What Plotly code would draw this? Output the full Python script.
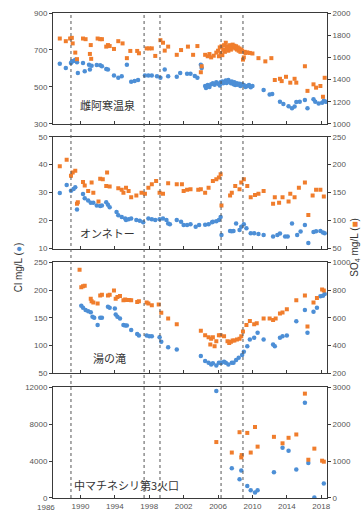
import plotly.graph_objects as go

# ---------------- data ----------------
# Panel 1: 雌阿寒温泉
p1_cl_year = [1987.6, 1988.3, 1988.9, 1989.0, 1989.2, 1989.4, 1989.6, 1989.7, 1990.3, 1990.5, 1991.0, 1991.1, 1991.3,
              1991.9, 1992.3, 1992.5, 1993.0, 1993.2, 1993.9, 1994.4, 1994.8, 1995.4, 1995.9, 1996.3, 1996.7, 1997.5,
              1997.9, 1998.3, 1998.9, 1999.3, 1999.8, 2000.2, 2001.2, 2001.6, 2002.4, 2002.8, 2003.3, 2003.6, 2004.0,
              2004.1, 2004.5, 2004.6, 2004.8, 2005.0, 2005.2, 2005.4, 2005.6, 2005.8, 2006.0, 2006.2, 2006.3, 2006.5,
              2006.6, 2006.8, 2006.9, 2007.0, 2007.2, 2007.3, 2007.5, 2007.6, 2007.8, 2007.9, 2008.0, 2008.2, 2008.3,
              2008.5, 2008.6, 2008.8, 2009.0, 2009.2, 2009.4, 2009.6, 2009.8, 2010.0, 2011.3, 2012.0, 2012.3, 2013.2,
              2013.6, 2014.2, 2014.6, 2014.9, 2015.1, 2015.5, 2016.1, 2016.4, 2017.1, 2017.3, 2017.7, 2018.1, 2018.3,
              2018.5]
p1_cl_val = [625, 603, 629, 638, 641, 647, 633, 576, 629, 585, 620, 594, 615,
             619, 617, 612, 597, 594, 562, 550, 558, 620, 528, 532, 537, 562,
             562, 562, 558, 550, 594, 558, 555, 576, 572, 572, 559, 550, 620,
             603, 505, 495, 510, 500, 515, 520, 512, 525, 518, 508, 525, 530,
             520, 528, 535, 522, 537, 528, 520, 530, 515, 525, 510, 520, 512,
             518, 505, 515, 510, 500, 505, 510, 498, 505, 484, 459, 462, 420,
             408, 396, 385, 395, 418, 420, 429, 385, 434, 420, 410, 415, 425,
             420]
p1_so4_year = [1987.6, 1988.3, 1988.8, 1989.0, 1989.1, 1989.4, 1989.6, 1990.3, 1990.6, 1991.1, 1991.2, 1991.25,
               1992.0, 1992.3, 1992.5, 1993.0, 1993.2, 1993.4, 1993.9, 1994.4, 1994.9, 1995.4, 1995.8, 1996.6,
               1996.8, 1997.7, 1998.0, 1998.3, 1998.7, 1999.3, 1999.6, 1999.8, 2000.2, 2001.2, 2001.7, 2002.5,
               2003.1, 2003.6, 2004.0, 2004.1, 2004.5, 2004.8, 2005.0, 2005.2, 2005.5, 2005.8, 2006.0, 2006.1,
               2006.2, 2006.3, 2006.4, 2006.5, 2006.6, 2006.7, 2006.8, 2006.9, 2007.0, 2007.1, 2007.2, 2007.3,
               2007.4, 2007.5, 2007.6, 2007.7, 2007.8, 2007.9, 2008.0, 2008.1, 2008.2, 2008.3, 2008.4, 2008.5,
               2008.6, 2008.7, 2008.8, 2008.9, 2009.0, 2009.1, 2009.2, 2009.4, 2009.7, 2010.0, 2010.7, 2011.5,
               2012.2, 2012.6, 2013.2, 2013.4, 2013.9, 2014.4, 2014.9, 2015.1, 2016.1, 2016.4, 2017.1, 2017.4,
               2017.9, 2018.2, 2018.4]
p1_so4_val = [1770, 1746, 1770, 1776, 1726, 1643, 1584, 1770, 1764, 1631, 1711, 1587,
              1770, 1764, 1764, 1697, 1711, 1702, 1676, 1746, 1726, 1593, 1658, 1658,
              1637, 1681, 1681, 1681, 1613, 1755, 1732, 1661, 1697, 1623, 1666, 1697,
              1623, 1702, 1466, 1520, 1623, 1610, 1630, 1600, 1615, 1643, 1660, 1610,
              1690, 1640, 1700, 1620, 1670, 1710, 1650, 1732, 1680, 1700, 1660, 1690,
              1710, 1670, 1700, 1715, 1690, 1705, 1680, 1700, 1670, 1690, 1660, 1680,
              1650, 1670, 1660, 1580, 1600, 1650, 1640, 1645, 1640, 1635, 1593, 1564,
              1593, 1396, 1407, 1386, 1425, 1372, 1407, 1372, 1520, 1298, 1357, 1327,
              1342, 1245, 1416]

# Panel 2: オンネトー
p2_cl_year = [1987.6, 1988.4, 1988.9, 1989.2, 1989.4, 1989.6, 1990.3, 1990.5, 1990.9, 1991.2, 1991.5, 1991.9,
              1992.3, 1992.5, 1993.0, 1993.2, 1993.4, 1994.2, 1994.4, 1994.8, 1995.2, 1995.3, 1995.6, 1995.9,
              1996.5, 1996.9, 1997.3, 1997.9, 1998.3, 1998.7, 1999.2, 1999.6, 2000.0, 2000.2, 2000.4, 2001.2,
              2001.7, 2002.0, 2002.4, 2002.8, 2003.4, 2003.8, 2004.5, 2004.9, 2005.3, 2005.4, 2005.8, 2006.1,
              2006.3, 2006.4, 2007.4, 2007.6, 2007.8, 2008.1, 2008.5, 2008.7, 2009.0, 2009.3, 2009.8, 2010.2,
              2010.7, 2011.3, 2012.4, 2012.9, 2013.2, 2013.8, 2014.1, 2014.6, 2015.2, 2015.6, 2016.1, 2016.5,
              2017.1, 2017.4, 2017.9, 2018.2, 2018.4]
p2_cl_val = [29.9, 32.7, 30.7, 31.3, 31.9, 24.0, 29.5, 28.0, 27.2, 26.4, 26.4, 25.4,
             25.2, 25.4, 26.6, 25.7, 24.8, 23.1, 21.9, 21.3, 20.8, 20.2, 20.5, 20.8,
             20.2, 20.0, 19.4, 20.8, 20.5, 20.2, 20.5, 20.8, 20.2, 19.0, 18.7, 20.2,
             19.6, 18.4, 18.4, 18.7, 17.8, 18.4, 18.5, 18.7, 19.4, 19.6, 19.8, 20.2,
             21.3, 14.9, 16.3, 16.2, 16.3, 19.0, 16.7, 17.8, 18.7, 17.3, 15.5, 15.5,
             15.2, 14.9, 14.3, 14.9, 15.4, 14.3, 14.3, 19.0, 14.9, 16.1, 18.4, 12.0,
             15.9, 16.2, 16.3, 15.8, 15.5]
p2_so4_year = [1987.6, 1988.4, 1988.9, 1989.1, 1989.4, 1989.6, 1989.7, 1990.3, 1990.5, 1990.9, 1991.3, 1991.5,
               1992.1, 1992.3, 1992.6, 1993.0, 1993.1, 1993.4, 1994.4, 1994.8, 1995.0, 1995.3, 1995.6, 1995.9,
               1996.5, 1997.1, 1997.5, 1997.9, 1998.3, 1998.8, 1999.2, 1999.6, 2000.2, 2001.2, 2001.8, 2002.0,
               2002.4, 2002.8, 2003.7, 2004.0, 2004.5, 2004.9, 2005.4, 2005.8, 2006.1, 2006.3, 2006.4, 2007.4,
               2007.6, 2008.0, 2008.5, 2008.7, 2009.0, 2009.4, 2009.8, 2010.3, 2010.7, 2011.3, 2012.4, 2012.6,
               2013.1, 2013.5, 2014.2, 2014.4, 2014.9, 2015.4, 2016.1, 2016.5, 2017.0, 2017.4, 2017.9, 2018.3]
p2_so4_val = [197, 209, 180, 186, 189, 130, 133, 169, 163, 153, 168, 150,
              134, 175, 174, 162, 186, 161, 158, 155, 150, 159, 153, 142,
              145, 150, 148, 159, 165, 171, 150, 148, 167, 165, 165, 153,
              155, 156, 155, 156, 150, 159, 171, 174, 177, 183, 127, 145,
              150, 162, 156, 168, 174, 162, 142, 146, 148, 153, 130, 142,
              132, 142, 134, 148, 142, 159, 168, 110, 145, 155, 155, 143]

# Panel 3: 湯の滝
p3_cl_year = [1990.1, 1990.3, 1990.6, 1990.9, 1991.2, 1991.4, 1991.6, 1992.0, 1992.3, 1992.5, 1993.2, 1993.4,
              1994.0, 1994.1, 1994.3, 1994.6, 1995.0, 1995.2, 1995.4, 1995.9, 1996.6, 1996.8, 1997.7, 1998.0,
              1998.3, 1999.2, 1999.4, 2000.2, 2001.2, 2004.0, 2004.5, 2004.9, 2005.2, 2005.4, 2005.8, 2006.1,
              2006.3, 2006.4, 2006.7, 2006.9, 2007.2, 2007.6, 2007.8, 2008.1, 2008.4, 2008.8, 2009.0, 2009.4,
              2009.7, 2010.2, 2010.6, 2011.3, 2012.4, 2012.6, 2013.2, 2013.5, 2014.0, 2015.1, 2016.1, 2016.4,
              2017.1, 2017.5, 2017.9, 2018.2, 2018.4]
p3_cl_val = [172, 168, 164, 162, 160, 152, 150, 137, 150, 150, 170, 168,
             167, 156, 152, 149, 137, 136, 136, 128, 121, 118, 118, 117,
             117, 115, 107, 97, 93, 81, 72, 69, 66, 68, 64, 69,
             69, 69, 71, 69, 66, 69, 69, 74, 78, 83, 89, 99,
             111, 114, 123, 111, 102, 99, 114, 117, 118, 144, 164, 123,
             161, 168, 189, 190, 193]
p3_so4_year = [1989.9, 1990.1, 1990.3, 1990.5, 1991.2, 1991.3, 1991.5, 1992.0, 1992.3, 1992.5, 1993.2, 1993.4,
               1993.9, 1994.1, 1994.3, 1994.6, 1995.0, 1995.2, 1995.4, 1995.7, 1995.9, 1996.6, 1996.8, 1997.7,
               1997.9, 1998.3, 1999.1, 1999.4, 2000.2, 2001.2, 2004.0, 2004.5, 2004.9, 2005.1, 2005.2, 2005.4,
               2005.6, 2005.8, 2006.1, 2006.3, 2006.7, 2007.1, 2007.3, 2007.5, 2007.7, 2007.9, 2008.2, 2008.5,
               2008.7, 2008.9, 2009.3, 2009.7, 2010.2, 2010.5, 2011.3, 2012.0, 2012.4, 2012.7, 2013.2, 2013.5,
               2014.0, 2015.1, 2016.1, 2016.4, 2017.1, 2017.5, 2018.1, 2018.3]
p3_so4_val = [946, 821, 828, 832, 738, 719, 710, 703, 761, 766, 761, 766,
              797, 738, 750, 757, 726, 733, 729, 729, 726, 715, 719, 710,
              703, 691, 696, 637, 596, 554, 507, 474, 460, 408, 450, 460,
              396, 431, 474, 474, 467, 431, 419, 427, 436, 436, 443, 450,
              467, 502, 549, 577, 554, 561, 596, 596, 584, 596, 632, 639,
              662, 726, 761, 537, 710, 743, 804, 797]

# Panel 4: 中マチネシリ第3火口
p4_cl_year = [2005.8, 2007.6, 2008.5, 2008.7, 2009.4, 2009.8, 2010.3, 2010.6, 2012.5, 2013.5, 2014.2, 2015.1,
              2016.1, 2016.5, 2017.2, 2018.3]
p4_cl_val = [11576, 3218, 2018, 2974, 1306, 850, 605, 850, 2793, 5448, 5098, 3080,
             10301, 3791, 50, 1561]
p4_so4_year = [2005.8, 2007.6, 2008.5, 2008.7, 2008.75, 2009.4, 2009.8, 2010.3, 2010.6, 2012.5, 2013.5, 2014.2,
               2015.1, 2016.1, 2016.5, 2017.2, 2018.1, 2018.3]
p4_so4_val = [1513, 1229, 1779, 1097, 1160, 1760, 1229, 1920, 1389, 1654, 1479, 1628,
              1718, 2822, 1035, 1335, 1009, 982]

panel_names = ["雌阿寒温泉", "オンネトー", "湯の滝", "中マチネシリ第3火口"]
eruption_years = [1988.9, 1997.4, 1999.25, 2006.35, 2008.9]
year_ticks = [1990, 1994, 1998, 2002, 2006, 2010, 2014, 2018]
first_year_label = "1986"

cl_ranges = [[300, 900], [10, 50], [50, 250], [0, 12000]]
cl_ticks = [[300, 500, 700, 900], [10, 20, 30, 40, 50], [50, 100, 150, 200, 250], [0, 4000, 8000, 12000]]
so4_ranges = [[1000, 2000], [50, 250], [200, 1000], [0, 3000]]
so4_ticks = [[1000, 1200, 1400, 1600, 1800, 2000], [50, 100, 150, 200, 250],
             [200, 400, 600, 800, 1000], [0, 1000, 2000, 3000]]

panels = [(p1_cl_year, p1_cl_val, p1_so4_year, p1_so4_val),
          (p2_cl_year, p2_cl_val, p2_so4_year, p2_so4_val),
          (p3_cl_year, p3_cl_val, p3_so4_year, p3_so4_val),
          (p4_cl_year, p4_cl_val, p4_so4_year, p4_so4_val)]

# ---------------- style ----------------
BLUE = "#4d8fd6"
ORANGE = "#f07d2c"
AX = "#3a3a3a"
TICKF = dict(family="Liberation Sans, Arial, sans-serif", size=8, color="#555555")
JPF = dict(family="Noto Sans CJK JP", size=11, color="#333333")

W, H = 363, 520
ML, MR, MT, MB = 53, 36, 9, 17
plot_w = W - ML - MR
plot_h = H - MT - MB
domains = [[381 / plot_h, 1.0], [254 / plot_h, 368 / plot_h], [127 / plot_h, 240 / plot_h], [0.0, 113 / plot_h]]
XRANGE = [1986.81, 2018.67]

fig = go.Figure()
layout = dict(
    width=W, height=H,
    margin=dict(l=ML, r=MR, t=MT, b=MB),
    paper_bgcolor="white", plot_bgcolor="white",
    showlegend=False,
)

for i, (cx, cy, sx, sy) in enumerate(panels):
    n = i + 1
    xa = "x" if n == 1 else f"x{n}"
    ya = "y" if n == 1 else f"y{n}"
    ya2 = f"y{n + 4}"
    fig.add_trace(go.Scatter(x=sx, y=sy, mode="markers", xaxis=xa, yaxis=ya2,
                             marker=dict(symbol="square", size=4, color=ORANGE), cliponaxis=True))
    fig.add_trace(go.Scatter(x=cx, y=cy, mode="markers", xaxis=xa, yaxis=ya,
                             marker=dict(symbol="circle", size=4.5, color=BLUE), cliponaxis=True))
    xkey = "xaxis" if n == 1 else f"xaxis{n}"
    ykey = "yaxis" if n == 1 else f"yaxis{n}"
    layout[xkey] = dict(
        domain=[0, 1], anchor=ya, range=XRANGE, showgrid=False, zeroline=False,
        showline=True, linecolor=AX, linewidth=1, mirror=True,
        ticks="inside", ticklen=3, tickcolor=AX,
        tickvals=year_ticks, ticktext=[str(t) for t in year_ticks],
        showticklabels=(n == 4), tickfont=TICKF,
    )
    layout[ykey] = dict(
        domain=domains[i], anchor=xa, range=cl_ranges[i], tickvals=cl_ticks[i],
        ticktext=[str(t) for t in cl_ticks[i]],
        showgrid=False, zeroline=False, showline=True, linecolor=AX, linewidth=1, mirror=True,
        ticks="outside", ticklen=3, tickcolor=AX, tickfont=TICKF,
    )
    layout[f"yaxis{n + 4}"] = dict(
        overlaying=ya, side="right", anchor=xa, range=so4_ranges[i], tickvals=so4_ticks[i],
        ticktext=[str(t) for t in so4_ticks[i]],
        showgrid=False, zeroline=False, showline=False,
        ticks="outside", ticklen=3, tickcolor=AX, tickfont=TICKF,
    )

fig.update_layout(**layout)

# eruption dotted lines
for yr in eruption_years:
    fig.add_shape(type="line", xref="x4", yref="paper", x0=yr, x1=yr, y0=0, y1=1,
                  line=dict(color="#555555", width=1, dash="dot"), layer="above")

annotations = []
label_pos = [(0.2007, 0.8097), (0.2007, 0.5466), (0.2044, 0.2895), (0.268, 0.0263)]
for name, (ax_, ay_) in zip(panel_names, label_pos):
    annotations.append(dict(text=name, x=ax_, y=ay_, xref="paper", yref="paper",
                            showarrow=False, font=JPF, xanchor="center", yanchor="middle"))
annotations.append(dict(text=first_year_label, x=(46 - ML) / plot_w, xref="paper", y=0, yref="paper",
                        xanchor="center", yanchor="top", yshift=-3, showarrow=False, font=TICKF))
annotations.append(dict(text=f"Cl mg/L (<span style='color:{BLUE}'>●</span>)", textangle=-90,
                        x=(18 - ML) / plot_w, y=(H - MB - 268) / plot_h, xref="paper", yref="paper",
                        showarrow=False, xanchor="center", yanchor="middle",
                        font=dict(family="Liberation Sans, Arial, sans-serif", size=10, color="#333333")))
annotations.append(dict(text=f"SO<sub>4</sub> mg/L (<span style='color:{ORANGE}'>■</span>)", textangle=-90,
                        x=(355 - ML) / plot_w, y=(H - MB - 248) / plot_h, xref="paper", yref="paper",
                        showarrow=False, xanchor="center", yanchor="middle",
                        font=dict(family="Liberation Sans, Arial, sans-serif", size=10, color="#333333")))
fig.update_layout(annotations=annotations)

fig.write_html("out.html")
